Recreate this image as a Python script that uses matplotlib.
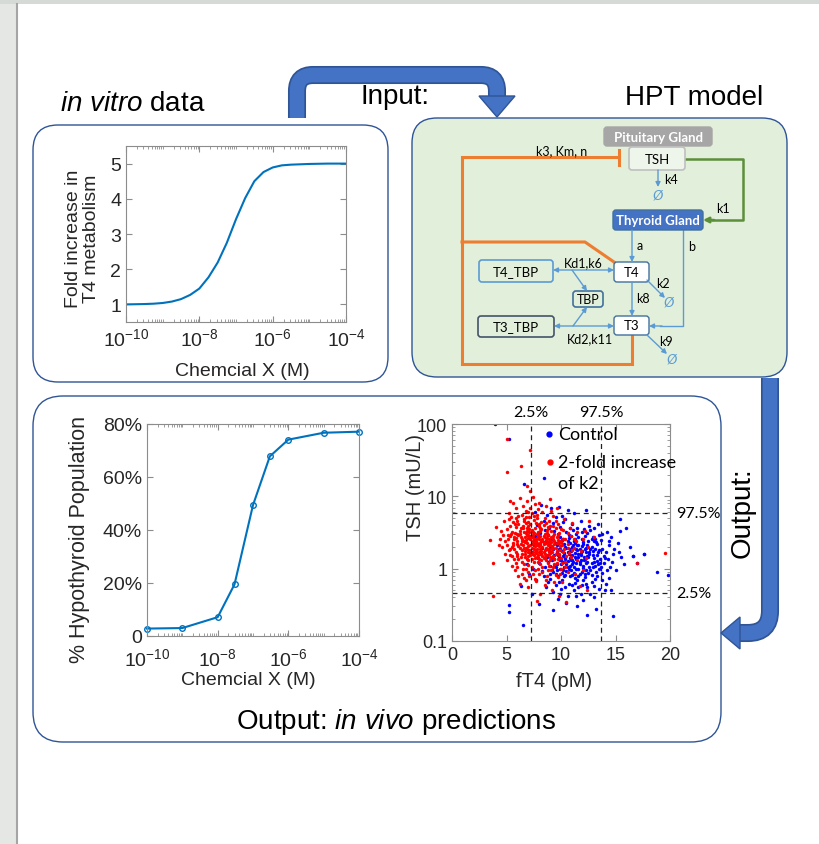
import numpy as np
import matplotlib
matplotlib.use('Agg')
import matplotlib.pyplot as plt
import matplotlib.ticker as ticker
from matplotlib.patches import FancyBboxPatch, Polygon, Rectangle, PathPatch
from matplotlib.path import Path

plt.rcParams['font.family'] = ['Liberation Sans', 'DejaVu Sans']
plt.rcParams['mathtext.fontset'] = 'custom'
plt.rcParams['mathtext.rm'] = 'Liberation Sans'
plt.rcParams['mathtext.it'] = 'Liberation Sans:italic'
plt.rcParams['axes.unicode_minus'] = False

# ---- data ----
# in vitro curve: log10 concentration vs fold increase
invitro_logx = [-10, -9.5, -9.25, -9, -8.75, -8.5, -8.25, -8, -7.75, -7.5, -7.25, -7, -6.75, -6.5,
                -6.25, -6, -5.75, -5.5, -5, -4.5, -4]
invitro_fold = [1.00, 1.01, 1.02, 1.04, 1.08, 1.15, 1.27, 1.45, 1.77, 2.19, 2.75, 3.42, 4.02, 4.5,
                4.76, 4.89, 4.95, 4.97, 4.99, 5.0, 5.0]

# in vivo: % hypothyroid population
hypo_conc = [1e-10, 1e-9, 1e-8, 3e-8, 1e-7, 3e-7, 1e-6, 1e-5, 1e-4]
hypo_pct = [2.8, 3.0, 7.1, 19.5, 49.4, 67.8, 74.1, 76.7, 77.1]

# scatter: (fT4 pM, TSH mU/L)
control_pts = [
    (8.2, 7.6), (9.1, 6.8), (9.8, 7.2), (10.6, 6.4), (8.7, 5.6), (11.2, 5.9), (12.3, 6.5), (10.1, 5.3), (7.6, 6.1), (9.5, 5.1),
    (8.4, 4.6), (9.3, 4.3), (10.4, 4.8), (11.0, 4.1), (11.8, 4.5), (12.6, 3.9), (9.9, 3.8), (8.9, 3.6), (10.8, 3.7), (12.1, 3.5),
    (13.4, 4.2), (7.8, 4.0), (11.5, 3.6), (10.2, 4.4), (13.0, 3.6),
    (8.1, 3.1), (8.8, 2.9), (9.4, 3.3), (9.9, 2.7), (10.5, 3.2), (10.9, 2.8), (11.4, 3.0), (11.9, 2.6), (12.4, 3.1), (12.9, 2.7),
    (13.5, 2.9), (14.2, 3.2), (9.2, 2.6), (10.2, 2.55), (11.1, 3.4), (12.2, 2.85), (9.7, 3.0), (10.7, 2.65), (13.1, 2.6), (14.6, 2.7),
    (7.6, 2.8), (8.5, 3.4), (11.6, 2.75),
    (8.0, 2.2), (8.6, 2.4), (9.0, 2.0), (9.5, 2.3), (9.8, 1.9), (10.3, 2.2), (10.6, 2.45), (11.0, 2.0), (11.3, 2.3), (11.7, 1.9),
    (12.0, 2.2), (12.5, 2.4), (12.8, 2.0), (13.3, 2.2), (13.8, 1.9), (14.4, 2.1), (15.2, 2.3), (9.3, 1.85), (10.0, 2.35), (10.8, 1.85),
    (11.5, 2.15), (12.3, 1.95), (8.3, 1.95), (7.5, 2.1), (13.0, 2.45), (14.9, 1.85), (16.3, 2.0),
    (8.2, 1.6), (8.7, 1.45), (9.1, 1.7), (9.4, 1.35), (9.7, 1.55), (10.1, 1.75), (10.4, 1.4), (10.7, 1.6), (11.0, 1.3), (11.3, 1.65),
    (11.6, 1.45), (11.9, 1.75), (12.2, 1.35), (12.6, 1.6), (13.0, 1.4), (13.4, 1.7), (13.9, 1.5), (14.3, 1.35), (14.8, 1.6), (15.5, 1.45),
    (9.9, 1.3), (10.9, 1.5), (11.8, 1.55), (12.9, 1.75), (7.9, 1.4), (7.3, 1.7), (8.9, 1.75), (10.3, 1.55), (11.4, 1.38), (12.4, 1.5),
    (16.6, 1.5), (17.6, 1.6),
    (8.0, 1.2), (8.5, 1.05), (8.8, 1.25), (9.2, 0.95), (9.6, 1.15), (9.9, 1.0), (10.2, 1.22), (10.5, 0.92), (10.8, 1.1), (11.1, 1.25),
    (11.4, 0.98), (11.7, 1.15), (12.0, 1.02), (12.3, 1.2), (12.7, 0.95), (13.1, 1.1), (13.5, 1.0), (13.9, 1.2), (14.5, 1.05), (15.0, 0.95),
    (9.4, 1.1), (10.6, 1.28), (11.9, 0.9), (7.4, 1.0), (6.9, 1.15), (8.3, 0.93), (13.3, 1.27), (15.8, 1.15), (17.0, 1.2), (18.8, 0.89),
    (19.8, 0.82),
    (8.4, 0.8), (9.0, 0.72), (9.5, 0.85), (9.8, 0.65), (10.3, 0.78), (10.7, 0.62), (11.0, 0.83), (11.5, 0.7), (11.9, 0.6), (12.2, 0.77),
    (12.8, 0.66), (13.3, 0.8), (13.8, 0.7), (14.4, 0.75), (7.7, 0.7), (7.1, 0.85), (10.1, 0.88), (11.3, 0.64), (12.5, 0.87), (14.1, 0.62),
    (8.6, 0.55), (9.3, 0.48), (10.0, 0.52), (10.6, 0.42), (11.2, 0.5), (11.8, 0.45), (12.4, 0.55), (13.0, 0.4), (14.6, 0.5), (7.3, 0.45),
    (9.7, 0.38), (12.0, 0.37), (13.5, 0.52), (6.3, 0.57),
    (5.2, 0.31), (5.2, 0.25), (6.5, 0.166), (9.3, 0.27), (12.4, 0.23), (14.8, 0.22), (11.5, 0.3), (10.5, 0.33), (13.2, 0.28), (8.0, 0.32),
    (3.9, 100), (5.2, 63), (8.4, 18), (6.6, 15), (15.4, 3.3), (16.0, 3.7), (15.4, 4.9), (17.6, 1.6), (16.6, 1.5),
    (9.2, 1.3), (9.5, 1.05), (9.8, 1.45), (10.0, 1.15), (10.2, 0.95), (10.4, 1.35), (10.6, 1.05), (10.8, 1.4), (11.0, 1.15), (11.2, 0.88),
    (11.4, 1.2), (11.6, 1.0), (11.8, 1.3), (12.0, 1.1), (12.2, 0.85), (12.4, 1.25), (9.6, 1.7), (9.9, 1.9), (10.3, 1.65), (10.5, 1.95),
    (10.9, 1.75), (11.1, 2.1), (11.5, 1.8), (11.9, 2.05), (12.3, 1.7), (12.7, 1.85), (9.4, 1.55), (10.8, 0.8), (11.3, 0.75), (11.7, 0.85),
    (12.6, 1.05), (13.0, 1.25), (13.2, 0.9), (13.6, 1.35), (12.9, 1.55), (10.1, 2.5), (10.7, 2.9), (11.3, 2.55), (9.6, 2.15), (12.1, 1.45),
    (9.0, 1.1), (11.6, 1.6), (10.3, 1.05), (12.8, 1.2), (13.7, 1.05),
    (9.3, 0.9), (9.7, 0.78), (10.1, 0.7), (10.4, 0.82), (10.9, 0.95), (11.2, 1.05), (11.6, 0.8), (12.0, 0.7), (12.3, 0.95), (12.8, 0.82),
    (13.1, 0.72), (13.4, 1.15), (13.8, 0.88), (14.2, 0.95), (10.0, 1.3), (10.5, 1.15), (10.9, 1.3), (11.3, 1.45), (11.7, 1.25), (12.1, 1.3),
    (12.5, 1.45), (12.9, 1.05), (13.3, 1.55), (13.6, 1.2), (14.0, 1.4), (10.2, 1.5), (10.6, 1.7), (11.0, 1.55), (11.4, 1.9), (11.8, 1.65),
    (12.2, 1.85), (12.6, 1.7), (13.1, 1.9), (13.5, 1.8), (14.1, 1.7), (10.4, 2.0), (10.8, 2.25), (11.2, 2.45), (11.6, 2.1), (12.0, 2.35),
    (12.4, 2.15), (12.8, 2.6), (13.2, 2.35), (13.7, 2.5), (9.5, 0.6), (10.4, 0.55), (11.0, 0.6), (11.6, 0.55), (12.3, 0.62), (13.0, 0.58),
    (9.9, 0.45), (11.4, 0.42), (12.7, 0.45), (14.0, 0.5), (11.9, 3.2), (12.7, 3.4), (13.8, 3.0), (9.0, 0.85), (9.6, 0.95), (10.7, 1.0),
    (8.8, 0.65), (14.7, 1.25), (15.3, 1.7), (14.4, 2.4),
]
k2_pts = [
    (6.2, 9.5), (6.9, 8.6), (7.4, 9.8), (8.0, 8.2), (6.5, 7.3), (7.2, 7.0), (7.9, 6.6), (8.6, 7.4), (5.9, 6.8), (9.1, 6.3),
    (6.8, 6.2), (7.6, 7.9), (5.6, 8.1), (8.3, 6.1), (9.6, 7.0),
    (5.4, 5.2), (6.0, 4.6), (6.4, 5.6), (6.8, 4.3), (7.1, 5.1), (7.5, 4.7), (7.8, 5.5), (8.2, 4.4), (8.5, 5.0), (8.9, 4.6),
    (9.3, 5.3), (5.8, 4.1), (6.6, 4.9), (7.3, 5.8), (8.0, 4.1), (9.7, 4.2), (10.3, 4.8), (4.8, 4.5), (11.0, 4.3), (12.6, 4.5), (5.2, 5.9),
    (5.0, 3.5), (5.5, 3.2), (5.9, 3.8), (6.2, 3.3), (6.5, 3.6), (6.8, 3.1), (7.0, 3.9), (7.3, 3.4), (7.6, 3.7), (7.9, 3.2),
    (8.2, 3.5), (8.5, 3.05), (8.8, 3.8), (9.1, 3.3), (9.5, 3.6), (9.8, 3.1), (10.2, 3.4), (10.8, 3.7), (11.5, 3.2), (4.5, 3.3),
    (6.0, 3.05), (7.1, 3.25), (8.0, 3.85), (9.3, 3.9), (12.2, 3.3), (4.0, 3.8),
    (4.4, 2.6), (4.9, 2.4), (5.3, 2.8), (5.6, 2.3), (5.9, 2.65), (6.1, 2.9), (6.4, 2.45), (6.7, 2.75), (6.9, 2.25), (7.2, 2.6),
    (7.4, 2.95), (7.7, 2.4), (7.9, 2.7), (8.1, 2.3), (8.4, 2.85), (8.6, 2.5), (8.9, 2.25), (9.1, 2.7), (9.4, 2.45), (9.7, 2.9),
    (10.0, 2.35), (10.4, 2.6), (10.9, 2.8), (11.4, 2.4), (12.0, 2.55), (3.5, 2.5), (6.3, 2.2), (7.0, 2.95), (8.0, 2.55), (8.8, 2.95),
    (9.6, 2.25), (5.1, 2.95), (6.8, 2.5), (7.5, 2.3), (8.3, 2.6), (13.0, 2.7),
    (4.6, 2.0), (5.2, 1.8), (5.6, 2.1), (5.9, 1.7), (6.2, 1.95), (6.5, 2.15), (6.7, 1.75), (7.0, 2.05), (7.2, 1.65), (7.5, 1.9),
    (7.8, 2.15), (8.0, 1.7), (8.3, 2.0), (8.5, 1.8), (8.8, 2.1), (9.0, 1.65), (9.3, 1.95), (9.6, 1.75), (9.9, 2.05), (10.3, 1.85),
    (10.7, 1.65), (11.2, 1.95), (11.8, 1.75), (12.5, 2.0), (6.0, 1.62), (7.3, 2.18), (8.1, 1.88), (8.9, 1.9), (9.8, 1.6), (7.7, 1.78),
    (6.9, 1.88), (19.5, 1.66), (17.0, 1.2),
    (5.0, 1.3), (5.5, 1.5), (5.9, 1.2), (6.3, 1.45), (6.6, 1.15), (6.9, 1.35), (7.2, 1.55), (7.5, 1.25), (7.8, 1.45), (8.1, 1.15),
    (8.4, 1.4), (8.7, 1.55), (9.0, 1.3), (9.3, 1.5), (9.6, 1.2), (10.0, 1.4), (10.4, 1.25), (10.9, 1.45), (11.5, 1.3), (3.8, 1.2),
    (7.0, 1.12), (8.2, 1.58), (9.8, 1.55), (12.3, 1.4), (6.1, 1.35),
    (5.8, 0.95), (6.4, 0.85), (6.8, 1.0), (7.1, 0.8), (7.6, 0.95), (8.0, 0.85), (8.3, 1.05), (8.7, 0.8), (9.1, 0.95), (9.5, 0.82),
    (10.0, 1.0), (10.6, 0.9), (11.3, 0.85), (12.0, 0.95), (7.3, 1.05), (8.9, 1.08), (6.1, 0.78), (9.7, 0.76),
    (6.2, 0.62), (7.0, 0.55), (7.7, 0.68), (8.5, 0.6), (9.2, 0.5), (10.1, 0.65), (11.7, 0.58), (6.8, 0.7), (8.1, 0.45), (3.75, 0.42),
    (12.4, 0.5), (9.8, 0.42), (7.8, 0.36), (10.5, 0.35),
    (5.0, 63), (7.2, 44), (5.0, 22), (6.35, 26), (6.9, 14), (7.2, 12), (5.3, 8.5), (9.0, 9.2),
    (6.6, 3.2), (6.9, 2.9), (7.1, 3.5), (7.3, 2.7), (7.5, 3.1), (7.7, 2.55), (7.9, 2.95), (8.1, 3.3), (8.3, 2.45), (8.5, 2.75),
    (8.7, 3.15), (8.9, 2.6), (9.1, 2.35), (9.3, 2.85), (6.7, 2.35), (7.0, 2.65), (7.2, 2.15), (7.4, 2.45), (7.6, 2.05), (7.8, 2.25),
    (8.0, 2.05), (8.2, 2.4), (8.4, 2.2), (8.6, 1.95), (8.8, 2.35), (9.0, 2.15), (9.2, 1.85), (9.4, 2.2), (6.8, 1.95), (7.1, 1.8),
    (7.4, 1.7), (7.6, 2.2), (7.9, 1.55), (8.2, 1.75), (8.5, 1.6), (8.7, 1.85), (9.0, 1.45), (9.2, 1.7), (9.5, 1.95), (7.0, 1.5),
    (7.3, 1.35), (7.7, 1.65), (8.0, 1.35), (8.3, 1.5), (8.6, 1.3), (8.9, 1.6), (9.4, 1.35), (6.4, 2.6), (6.2, 3.0), (6.0, 2.4),
    (5.7, 2.55), (5.8, 3.1), (6.4, 1.8), (6.7, 1.6), (9.7, 2.5), (9.9, 1.8), (10.1, 2.1), (5.5, 2.0), (6.5, 3.9), (7.0, 4.4),
    (5.3, 3.9), (5.6, 4.4), (5.9, 5.0), (6.1, 4.2), (6.3, 3.7), (6.6, 4.5), (6.9, 3.6), (7.2, 4.1), (7.4, 3.2), (7.7, 4.3),
    (8.1, 3.6), (8.4, 4.0), (8.7, 3.4), (9.0, 3.9), (9.4, 3.0), (5.1, 2.6), (5.4, 3.0), (5.7, 2.75), (6.0, 2.2), (6.3, 2.75),
    (6.6, 2.45), (6.9, 3.35), (7.2, 2.8), (7.5, 2.6), (7.8, 3.0), (8.1, 2.8), (8.4, 2.35), (8.7, 2.65), (9.0, 2.45), (9.3, 2.6),
    (9.6, 2.7), (9.9, 2.4), (10.2, 2.55), (10.6, 2.2), (5.0, 2.1), (5.3, 1.9), (5.7, 1.85), (6.1, 2.05), (6.4, 1.6), (6.6, 1.95),
    (7.0, 1.7), (7.3, 1.95), (7.5, 1.55), (7.8, 1.9), (8.1, 2.15), (8.4, 1.7), (8.6, 2.25), (8.9, 1.75), (9.2, 2.05), (9.5, 1.6),
    (9.8, 2.3), (10.2, 1.7), (10.6, 1.95), (5.3, 1.55), (5.7, 1.35), (6.0, 1.5), (6.4, 1.25), (6.7, 1.45), (7.0, 1.3), (7.3, 1.6),
    (7.6, 1.4), (7.9, 1.25), (8.2, 1.3), (8.5, 1.45), (8.8, 1.2), (9.1, 1.4), (9.4, 1.15), (9.7, 1.35), (10.1, 1.2), (10.5, 1.5),
    (6.0, 1.05), (6.5, 1.0), (7.0, 0.9), (7.4, 0.85), (7.9, 1.0), (8.3, 0.9), (8.8, 0.95), (9.3, 1.05), (9.9, 0.85), (10.4, 1.05),
    (5.5, 1.1), (6.6, 0.75), (7.6, 0.72), (8.6, 0.7), (9.4, 0.65), (4.7, 2.9), (4.3, 2.1), (4.9, 1.6), (5.2, 4.8), (6.1, 5.4),
    (7.0, 6.0), (7.8, 5.0), (8.6, 4.3), (9.5, 4.6), (10.0, 3.5), (10.6, 3.1), (11.2, 2.6), (11.0, 1.8), (6.8, 5.2), (7.5, 5.3),
]
ft4_lo, ft4_hi = 7.24, 13.68
tsh_lo, tsh_hi = 0.468, 5.86

W, H = 819, 845
BLUE_BOX = '#2f5597'
ARROW_BLUE = '#4472c4'
LB = '#5b9bd5'
ORANGE = '#ed7d31'
GREEN = '#5b8f3a'
DIAG = ['Lato', 'DejaVu Sans']

fig = plt.figure(figsize=(W / 100, H / 100), dpi=100, facecolor='#e4e7e4')
bg = fig.add_axes([0, 0, 1, 1])
bg.set_xlim(0, W)
bg.set_ylim(H, 0)
bg.axis('off')

# slide background
bg.add_patch(Rectangle((0, 0), W, 5, fc='#d6dad6', ec='none'))
bg.add_patch(Rectangle((18, 5), W - 18, H - 5, fc='white', ec='none'))
bg.plot([17, 17], [5, H], color='#a5a5a5', lw=1.5)


def rbox(x0, y0, x1, y1, r, fc, ec, lw=1.0, z=1):
    bg.add_patch(FancyBboxPatch((x0, y0), x1 - x0, y1 - y0,
                                boxstyle=f'round,pad=0,rounding_size={r}',
                                fc=fc, ec=ec, lw=lw, zorder=z))


def arr(p0, p1, color=LB, lw=1.0, style='-|>', ms=7):
    bg.annotate('', xy=p1, xytext=p0,
                arrowprops=dict(arrowstyle=style, color=color, lw=lw,
                                shrinkA=0, shrinkB=0, mutation_scale=ms))


def thick_arrow(verts, codes, head):
    path = Path(verts, codes)
    bg.add_patch(PathPatch(path, fill=False, ec=BLUE_BOX, lw=13, capstyle='butt', zorder=3))
    bg.add_patch(PathPatch(path, fill=False, ec=ARROW_BLUE, lw=10.5, capstyle='butt', zorder=3))
    bg.add_patch(Polygon(head, closed=True, fc=ARROW_BLUE, ec=BLUE_BOX, lw=1, zorder=3))


# main boxes
rbox(33, 126, 388, 383, 25, 'white', BLUE_BOX, 1.0)
rbox(412, 119, 787, 378, 25, '#e2efda', BLUE_BOX, 1.0)
rbox(33, 397, 721, 743, 30, 'white', BLUE_BOX, 1.0)

# headings
bg.text(60, 104, r'$\it{in\ vitro}$ data', fontsize=20, va='center', ha='left')
bg.text(395, 97, 'Input:', fontsize=20, va='center', ha='center')
bg.text(694, 98, 'HPT model', fontsize=20, va='center', ha='center')
bg.text(396, 722, r'Output: $\it{in\ vivo}$ predictions', fontsize=20, va='center', ha='center')
bg.text(743, 513, 'Output:', fontsize=20, va='center', ha='center', rotation=90)

# input / output arrows
M, L, C = Path.MOVETO, Path.LINETO, Path.CURVE3
thick_arrow([(297, 119), (297, 92), (297, 76), (313, 76), (481, 76), (497, 76), (497, 92), (497, 98)],
            [M, L, C, C, L, C, C, L],
            [(479, 97), (515, 97), (497, 118)])
thick_arrow([(770, 379), (770, 612), (770, 634), (748, 634), (739, 634)],
            [M, L, C, C, L],
            [(740, 618), (740, 650), (721, 634)])

# ---- HPT model diagram ----
# orange feedback
bg.plot([619, 462, 462, 632, 632], [158, 158, 365, 365, 337], color=ORANGE, lw=2.2, zorder=2,
        solid_joinstyle='miter')
bg.plot([462, 585, 614], [243, 243, 263], color=ORANGE, lw=2.2, zorder=2)
bg.plot([619, 619], [151, 166], color=ORANGE, lw=2.2, zorder=2)
bg.text(562, 151, 'k3, Km, n', family=DIAG, fontsize=9, ha='center', va='center')

# green TSH -> thyroid
bg.plot([685, 743, 743, 712], [160, 160, 221, 221], color=GREEN, lw=1.8, zorder=2)
arr((714, 221), (703, 221), color=GREEN, lw=1.8, ms=8)
bg.text(723, 209, 'k1', family=DIAG, fontsize=9, ha='center', va='center')

# boxes
rbox(604, 128, 712, 147, 3, '#a6a6a6', '#a6a6a6', 1, z=3)
bg.text(658, 137.5, 'Pituitary Gland', family=DIAG, fontsize=9.5, fontweight='bold',
        color='white', ha='center', va='center', zorder=4)
rbox(629, 148, 685, 171, 3, '#eef5ea', '#bfbfbf', 1.2, z=3)
bg.text(657, 159.5, 'TSH', family=DIAG, fontsize=9.5, ha='center', va='center', zorder=4)
rbox(613, 211, 703, 231, 3, '#4472c4', '#41719c', 1, z=3)
bg.text(658, 221, 'Thyroid Gland', family=DIAG, fontsize=9.5, fontweight='bold',
        color='white', ha='center', va='center', zorder=4)
rbox(614, 263, 649, 283, 3, 'white', '#41719c', 1, z=3)
bg.text(631.5, 273, 'T4', family=DIAG, fontsize=9.5, ha='center', va='center', zorder=4)
rbox(614, 317, 649, 336, 3, 'white', '#41719c', 1, z=3)
bg.text(631.5, 326.5, 'T3', family=DIAG, fontsize=9.5, ha='center', va='center', zorder=4)
rbox(479, 261, 553, 283, 3, 'none', LB, 1.2, z=3)
bg.text(516, 272, 'T4_TBP', family=DIAG, fontsize=9.5, ha='center', va='center', zorder=4)
rbox(478, 317, 554, 338, 3, 'none', '#44546a', 1.2, z=3)
bg.text(516, 327.5, 'T3_TBP', family=DIAG, fontsize=9.5, ha='center', va='center', zorder=4)
rbox(573, 292, 603, 308, 3, 'none', '#41719c', 1.2, z=3)
bg.text(588, 300, 'TBP', family=DIAG, fontsize=9, ha='center', va='center', zorder=4)

# blue flows
arr((658, 171), (658, 188))
bg.text(658, 195, 'Ø', family=DIAG, fontsize=10, color=LB, ha='center', va='center', style='italic')
bg.text(664, 180, 'k4', family=DIAG, fontsize=9, ha='left', va='center')
arr((632, 231), (632, 263))
bg.text(637, 246, 'a', family=DIAG, fontsize=9, ha='left', va='center')
bg.plot([683, 683, 660], [231, 327, 327], color=LB, lw=1.0)
arr((662, 327), (649, 327))
bg.text(688, 247, 'b', family=DIAG, fontsize=9, ha='left', va='center')
arr((553, 271), (614, 271), style='<|-|>')
bg.text(583, 263, 'Kd1,k6', family=DIAG, fontsize=9, ha='center', va='center')
arr((572, 271), (587, 292))
arr((554, 327), (614, 327), style='<|-|>')
arr((573, 327), (587, 308))
bg.text(590, 339, 'Kd2,k11', family=DIAG, fontsize=9, ha='center', va='center')
arr((632, 283), (632, 317))
bg.text(636, 299, 'k8', family=DIAG, fontsize=9, ha='left', va='center')
arr((647, 281), (665, 299))
bg.text(669, 303, 'Ø', family=DIAG, fontsize=10, color=LB, ha='center', va='center', style='italic')
bg.text(656, 284, 'k2', family=DIAG, fontsize=9, ha='left', va='center')
arr((647, 336), (667, 355))
bg.text(672, 360, 'Ø', family=DIAG, fontsize=10, color=LB, ha='center', va='center', style='italic')
bg.text(659, 342, 'k9', family=DIAG, fontsize=9, ha='left', va='center')


# ---- plots ----
def px_axes(x0, y0, x1, y1):
    return fig.add_axes([x0 / W, 1 - y1 / H, (x1 - x0) / W, (y1 - y0) / H])


def matlab_style(ax, size):
    for s in ax.spines.values():
        s.set_color('#8c8c8c')
        s.set_linewidth(0.8)
    ax.tick_params(which='both', direction='in', top=True, right=True,
                   colors='#8c8c8c', labelcolor='#262626', labelsize=size)
    ax.tick_params(which='major', length=4)
    ax.tick_params(which='minor', length=2)


def log_x(ax):
    ax.set_xscale('log')
    ax.set_xlim(1e-10, 1e-4)
    ax.set_xticks([1e-10, 1e-8, 1e-6, 1e-4])
    ax.xaxis.set_minor_locator(ticker.LogLocator(base=10, subs=np.arange(1, 10), numticks=30))
    ax.xaxis.set_minor_formatter(ticker.NullFormatter())


# in vitro
ax1 = px_axes(126, 147, 346, 323)
ax1.plot(10 ** np.array(invitro_logx), invitro_fold, color='#0072bd', lw=1.5)
log_x(ax1)
ax1.set_ylim(0.5, 5.5)
ax1.set_yticks([1, 2, 3, 4, 5])
matlab_style(ax1, 14)
ax1.set_ylabel('Fold increase in\nT4 metabolism', fontsize=14, color='#262626', linespacing=1.05)
ax1.yaxis.set_label_coords(-0.118, 0.48)
ax1.set_xlabel('Chemcial X (M)', fontsize=14, color='#262626')
ax1.xaxis.set_label_coords(0.53, -0.225)

# hypothyroid population
ax2 = px_axes(147, 425, 359, 637)
ax2.plot(hypo_conc, hypo_pct, '-o', color='#0072bd', lw=1.5, ms=4, mfc='none', mew=1.0, clip_on=False)
log_x(ax2)
ax2.set_ylim(0, 80)
ax2.set_yticks([0, 20, 40, 60, 80])
ax2.set_yticklabels(['0', '20%', '40%', '60%', '80%'])
matlab_style(ax2, 14)
ax2.tick_params(axis='x', pad=8)
ax2.set_ylabel('% Hypothyroid Population', fontsize=15.5, color='#262626')
ax2.yaxis.set_label_coords(-0.269, 0.46)
ax2.set_xlabel('Chemcial X (M)', fontsize=14, color='#262626')
ax2.xaxis.set_label_coords(0.48, -0.165)

# TSH vs fT4 scatter
ctrl = np.array(control_pts)
k2 = np.array(k2_pts)
ax3 = px_axes(452, 425, 670, 642)
ax3.plot(ctrl[:, 0], ctrl[:, 1], 'o', color='#0000ff', ms=2.5, mew=0)
ax3.plot(k2[:, 0], k2[:, 1], 'o', color='#ff0000', ms=2.5, mew=0)
ax3.set_yscale('log')
ax3.set_xlim(0, 20)
ax3.set_ylim(0.1, 100)
ax3.set_xticks([0, 5, 10, 15, 20])
ax3.set_yticks([0.1, 1, 10, 100])
ax3.set_yticklabels(['0.1', '1', '10', '100'])
ax3.yaxis.set_minor_formatter(ticker.NullFormatter())
matlab_style(ax3, 13)
dash = (0, (4, 3))
for xv in (ft4_lo, ft4_hi):
    ax3.axvline(xv, color='#222222', ls=dash, lw=0.9)
for yv in (tsh_lo, tsh_hi):
    ax3.axhline(yv, color='#222222', ls=dash, lw=0.9)
top = ax3.get_xaxis_transform()
ax3.text(ft4_lo, 1.055, '2.5%', transform=top, family=DIAG, fontsize=11.5, ha='center', va='center')
ax3.text(ft4_hi, 1.055, '97.5%', transform=top, family=DIAG, fontsize=11.5, ha='center', va='center')
right = ax3.get_yaxis_transform()
ax3.text(1.03, tsh_hi, '97.5%', transform=right, family=DIAG, fontsize=11.5, ha='left', va='center')
ax3.text(1.03, tsh_lo, '2.5%', transform=right, family=DIAG, fontsize=11.5, ha='left', va='center')
ax3.plot([0.445], [0.954], 'o', color='#0000ff', ms=3.5, transform=ax3.transAxes, clip_on=False)
ax3.plot([0.45], [0.825], 'o', color='#ff0000', ms=3.5, transform=ax3.transAxes, clip_on=False)
ax3.text(0.486, 0.954, 'Control', transform=ax3.transAxes, family=DIAG, fontsize=13, va='center')
ax3.text(0.486, 0.825, '2-fold increase', transform=ax3.transAxes, family=DIAG, fontsize=13, va='center')
ax3.text(0.486, 0.728, 'of k2', transform=ax3.transAxes, family=DIAG, fontsize=13, va='center')
ax3.set_ylabel('TSH (mU/L)', fontsize=14.5, color='#262626')
ax3.yaxis.set_label_coords(-0.125, 0.71)
ax3.set_xlabel('fT4 (pM)', fontsize=14.5, color='#262626')
ax3.xaxis.set_label_coords(0.466, -0.138)

fig.savefig('out.png', dpi=100, facecolor=fig.get_facecolor())
